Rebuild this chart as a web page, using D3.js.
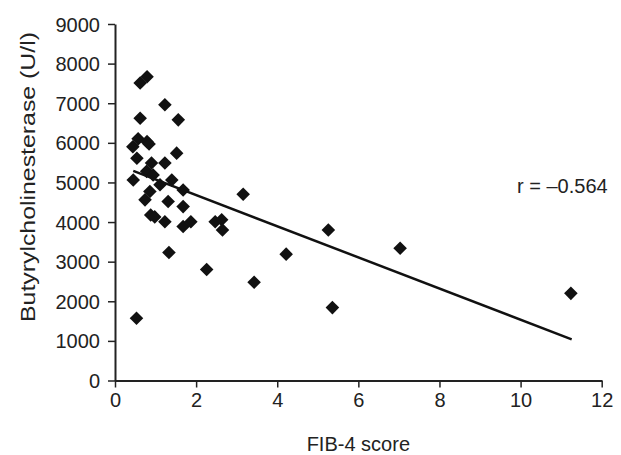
<!DOCTYPE html>
<html>
<head>
<meta charset="utf-8">
<script src="https://cdn.jsdelivr.net/npm/d3@7"></script>
<style>
  body { margin: 0; background: #fff; }
  svg text { font-family: "Liberation Sans", Arial, sans-serif; fill: #222; }
</style>
</head>
<body>
<svg id="chart" width="621" height="455"></svg>
<script>
// FIB-4 score vs butyrylcholinesterase
var fib4 = [0.53, 0.45, 0.44, 0.54, 0.57, 0.62, 0.62, 0.79, 1.23, 1.56,
            0.79, 0.84, 0.90, 1.23, 1.52, 0.78, 0.94, 1.11, 1.40, 0.86,
            0.74, 1.68, 1.31, 1.68, 0.88, 0.98, 1.23, 1.68, 1.87, 2.47,
            2.63, 2.65, 1.33, 2.26, 3.16, 5.26, 4.22, 3.43, 5.36, 7.03, 11.24];
var bche = [1570, 5060, 5900, 5610, 6100, 6620, 7510, 7670, 6960, 6580,
            6030, 5970, 5490, 5490, 5740, 5280, 5190, 4940, 5060, 4770,
            4560, 4810, 4520, 4390, 4180, 4130, 4010, 3890, 4010, 4010,
            4060, 3800, 3230, 2800, 4700, 3800, 3190, 2480, 1840, 3340, 2200];
var trendX = [0.45, 11.26];
var trendY = [5290, 1040];
var xTicks = [0, 2, 4, 6, 8, 10, 12];
var yTicks = [0, 1000, 2000, 3000, 4000, 5000, 6000, 7000, 8000, 9000];
var rLabel = "r = \u20130.564";

var svg = d3.select("#chart");
var x = d3.scaleLinear().domain([0, 12]).range([115, 601.7]);
var y = d3.scaleLinear().domain([0, 9000]).range([380.5, 24]);

var xAxis = d3.axisBottom(x).tickValues(xTicks).tickSize(7).tickSizeOuter(0).tickPadding(5);
var yAxis = d3.axisLeft(y).tickValues(yTicks).tickFormat(d3.format("d"))
  .tickSize(7).tickSizeOuter(0).tickPadding(8);

var gx = svg.append("g").attr("transform", "translate(0," + y(0) + ")").call(xAxis);
var gy = svg.append("g").attr("transform", "translate(" + x(0) + ",0)").call(yAxis);
[gx, gy].forEach(function(g) {
  g.selectAll("path.domain").attr("stroke", "#222").attr("stroke-width", 2);
  g.selectAll(".tick line").attr("stroke", "#222").attr("stroke-width", 1.5);
  g.selectAll(".tick text").attr("font-size", 20).attr("font-family", null).attr("fill", "#222");
});
gy.selectAll(".tick text").attr("dy", "0.35em");

// points
var pts = fib4.map(function(v, i) { return { x: v, y: bche[i] }; });
var sym = d3.symbol().type(d3.symbolSquare).size(92);
svg.append("g").selectAll("path")
  .data(pts).enter().append("path")
  .attr("d", sym)
  .attr("fill", "#111")
  .attr("transform", function(d) { return "translate(" + x(d.x) + "," + y(d.y) + ") rotate(45)"; });

// regression line
svg.append("line")
  .attr("x1", x(trendX[0])).attr("y1", y(trendY[0]))
  .attr("x2", x(trendX[1])).attr("y2", y(trendY[1]))
  .attr("stroke", "#111").attr("stroke-width", 2.5);

svg.append("text")
  .attr("x", 517).attr("y", 193)
  .attr("font-size", 20)
  .text(rLabel);

// axis titles
svg.append("text")
  .attr("x", x(6)).attr("y", 451)
  .attr("text-anchor", "middle")
  .attr("font-size", 20)
  .text("FIB-4 score");

svg.append("text")
  .attr("transform", "translate(35,177) rotate(-90)")
  .attr("text-anchor", "middle")
  .attr("font-size", 20)
  .attr("textLength", 290)
  .attr("lengthAdjust", "spacingAndGlyphs")
  .text("Butyrylcholinesterase (U/l)");
</script>
</body>
</html>
